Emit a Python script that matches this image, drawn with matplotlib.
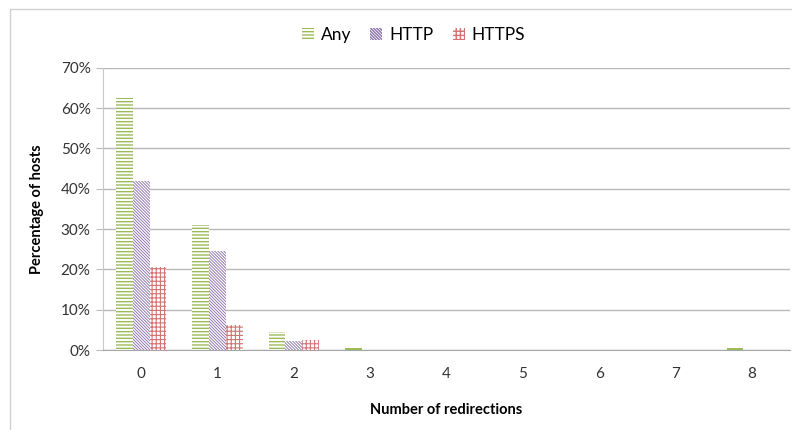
import numpy as np
import matplotlib
matplotlib.use("Agg")
import matplotlib.pyplot as plt
from matplotlib.patches import Rectangle

# data (percent of hosts)
redirections = ["0", "1", "2", "3", "4", "5", "6", "7", "8"]
any_pct = [62.5, 31.0, 4.4, 0.4, 0.0, 0.0, 0.0, 0.0, 0.4]
http_pct = [41.8, 24.6, 2.2, 0.0, 0.0, 0.0, 0.0, 0.0, 0.0]
https_pct = [20.5, 6.2, 2.4, 0.0, 0.0, 0.0, 0.0, 0.0, 0.0]

plt.rcParams['font.family'] = ['Lato', 'DejaVu Sans']
plt.rcParams['hatch.linewidth'] = 1.0

fig = plt.figure(figsize=(7.92, 4.30), dpi=100)
ax = fig.add_axes([103 / 792, 80 / 430, 687 / 792, 282.3 / 430])

x = np.arange(len(redirections))
w = 0.219
series = [
    ("Any", any_pct, "#9BBB59", "-----", 1.0),
    ("HTTP", http_pct, "#8C74AC", "\\" * 11, 0.65),
    ("HTTPS", https_pct, "#D07572", "++++", 0.8),
]
for i, (name, vals, col, hatch, hlw) in enumerate(series):
    bars = ax.bar(x + (i - 1) * w, vals, width=w, color="white", edgecolor=col,
                  hatch=hatch, linewidth=0, label=name, zorder=2)
    for b in bars:
        b.set_hatch_linewidth(hlw)
        # very short bars show up as a solid sliver
        if 0 < b.get_height() < 1:
            b.set_facecolor(col)

ax.set_xlim(-0.5, len(redirections) - 0.5)
ax.set_ylim(0, 70)
ax.set_yticks(range(0, 71, 10))
ax.set_yticklabels([f"{v}%" for v in range(0, 71, 10)], fontsize=11, color="#333333")
ax.set_xticks(x)
ax.set_xticklabels(redirections, fontsize=11, color="#333333")
ax.tick_params(axis="x", length=0, pad=12)
ax.tick_params(axis="y", length=5, color="#BBBBBB", pad=4)

ax.grid(axis="y", color="#B8B8B8", linewidth=1, zorder=0)
ax.set_axisbelow(True)
for s in ["top", "right"]:
    ax.spines[s].set_visible(False)
ax.spines["left"].set_color("#C8C8C8")
ax.spines["bottom"].set_color("#A6A6A6")

ax.set_ylabel("Percentage of hosts", fontsize=10.5, fontweight="bold", labelpad=12)
ax.set_xlabel("Number of redirections", fontsize=10.5, fontweight="bold", labelpad=16)

leg = fig.legend(loc="center", bbox_to_anchor=(0.522, 1 - 35 / 430), ncol=3, frameon=False,
                 fontsize=12.5, handlelength=0.7, handleheight=0.7, handletextpad=0.4,
                 columnspacing=1.1)

# outer chart frame
fig.patches.append(Rectangle((10 / 792, -0.1), 1.2, 1 - 9 / 430 + 0.1,
                             transform=fig.transFigure, fill=False,
                             edgecolor="#D0D0D0", linewidth=1))

fig.savefig("out.png", dpi=100)
